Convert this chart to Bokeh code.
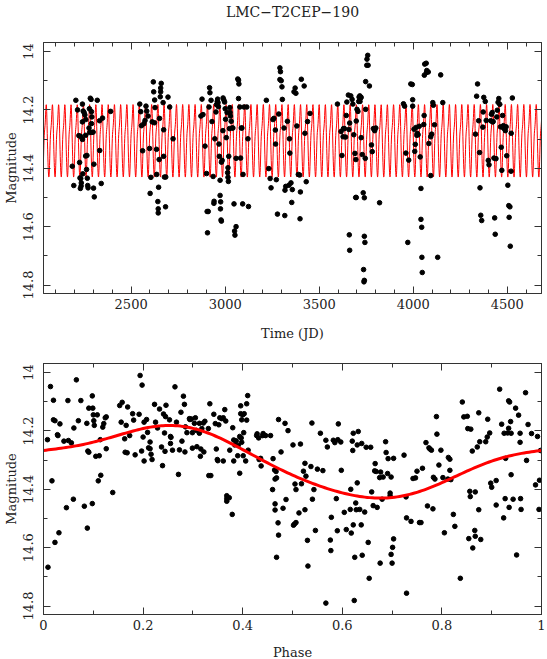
import numpy as np
from bokeh.plotting import figure
from bokeh.layouts import column
from bokeh.models import (Range1d, LinearAxis, SingleIntervalTicker,
                          CustomJSTickFormatter)
from bokeh.embed import file_html
from bokeh.resources import INLINE

# ---------------- data ----------------
title_text = "LMC\u2212T2CEP\u2212190"

jd = [2206, 2215, 2241, 2245, 2250, 2254, 2241, 2232, 2222, 2241, 2258, 2259, 2283, 2287, 2278,
      2289, 2291, 2289, 2276, 2280, 2291, 2298, 2332, 2320, 2348, 2333, 2258, 2265, 2226, 2228,
      2243, 2263, 2302, 2187, 2195, 2232, 2235, 2234, 2230, 2267, 2269, 2271, 2300, 2304, 2341,
      2391,
      2546, 2551, 2555, 2561, 2579, 2583, 2574, 2590, 2598, 2605, 2612, 2618, 2620, 2625, 2627,
      2624, 2635, 2636, 2642, 2644, 2644, 2646, 2649, 2651, 2655, 2657, 2657, 2660, 2670, 2673,
      2673, 2677, 2684, 2683, 2696, 2705, 2723, 2601, 2568,
      2871, 2877, 2882, 2893, 2901, 2904, 2906, 2910, 2917, 2919, 2914, 2925, 2930, 2936, 2940,
      2941, 2945, 2951, 2954, 2958, 2960, 2962, 2964, 2967, 2969, 2973, 2973, 2975, 2976, 2978,
      2980, 2980, 2984, 2988, 2989, 2993, 2997, 3000, 3002, 3006, 3010, 3015, 3013, 3015, 3017,
      3019, 3023, 3025, 3026, 3028, 3032, 3037, 3041, 3047, 3050, 3052, 3058, 3058, 3067, 3071,
      3073, 3071, 3078, 3082, 3086, 3089, 3095, 3100, 3115, 3121, 3124, 3093,
      3219, 3232, 3239, 3244, 3254, 3259, 3267, 3268, 3272, 3278, 3285, 3291, 3294, 3291, 3298,
      3302, 3304, 3313, 3318, 3317, 3322, 3331, 3339, 3342, 3344, 3350, 3354, 3357, 3366, 3372,
      3376, 3381, 3389, 3396, 3398, 3400, 3405, 3420, 3424, 3431, 3438, 3451,
      3597, 3616, 3621, 3627, 3629, 3634, 3640, 3644, 3647, 3655, 3658, 3662, 3668, 3675, 3679,
      3684, 3690, 3695, 3697, 3697, 3701, 3706, 3710, 3712, 3716, 3719, 3723, 3717, 3723, 3729,
      3734, 3740, 3740, 3743, 3736, 3738, 3740, 3747, 3747, 3745, 3753, 3754, 3758, 3760, 3767,
      3778, 3782, 3788, 3795, 3801, 3821, 3662, 3660, 3694,
      3948, 3954, 3961, 3976, 3971, 3987, 3995, 3997, 3997, 4004, 4008, 4011, 4015, 4019, 4021,
      4026, 4032, 4037, 4041, 4041, 4045, 4046, 4048, 4056, 4058, 4059, 4061, 4069, 4070, 4072,
      4080, 4083, 4093, 4098, 4104, 4107, 4113, 4093, 4130, 4146, 4157,
      4331, 4337, 4342, 4348, 4353, 4355, 4359, 4364, 4370, 4372, 4375, 4383, 4388, 4399, 4403,
      4412, 4416, 4420, 4422, 4425, 4429, 4433, 4436, 4440, 4444, 4447, 4451, 4455, 4460, 4464,
      4468, 4471, 4475, 4479, 4481, 4490, 4494, 4497, 4503, 4508, 4514, 4510, 4516, 4520, 4521,
      4527]

mag_t = [14.167, 14.200, 14.180, 14.204, 14.209, 14.217, 14.241, 14.291, 14.288, 14.301, 14.287, 14.233, 14.160, 14.164, 14.196,
         14.206, 14.224, 14.247, 14.262, 14.277, 14.277, 14.276, 14.237, 14.167, 14.228, 14.339, 14.358, 14.356, 14.380, 14.433,
         14.419, 14.404, 14.386, 14.393, 14.459, 14.435, 14.450, 14.461, 14.469, 14.434, 14.459, 14.467, 14.468, 14.498, 14.452,
         14.205,
         14.180, 14.206, 14.254, 14.340, 14.187, 14.204, 14.236, 14.221, 14.332, 14.431, 14.241, 14.104, 14.138, 14.166, 14.192,
         14.244, 14.335, 14.421, 14.514, 14.539, 14.553, 14.465, 14.370, 14.229, 14.155, 14.138, 14.125, 14.109, 14.175, 14.268,
         14.359, 14.430, 14.430, 14.532, 14.156, 14.190, 14.299, 14.486, 14.247,
         14.221, 14.163, 14.216, 14.324, 14.418, 14.548, 14.621, 14.548, 14.124, 14.141, 14.190, 14.167, 14.240, 14.428, 14.520,
         14.513, 14.299, 14.207, 14.182, 14.171, 14.163, 14.175, 14.189, 14.317, 14.359, 14.441, 14.493, 14.539, 14.515, 14.577,
         14.581, 14.379, 14.373, 14.271, 14.159, 14.166, 14.173, 14.196, 14.232, 14.295, 14.209, 14.398, 14.415, 14.431, 14.445,
         14.359, 14.264, 14.192, 14.209, 14.221, 14.239, 14.262, 14.262, 14.522, 14.615, 14.629, 14.600, 14.366, 14.094, 14.098,
         14.111, 14.161, 14.190, 14.365, 14.262, 14.262, 14.421, 14.190, 14.190, 14.299, 14.531, 14.522,
         14.167, 14.401, 14.435, 14.467, 14.233, 14.229, 14.269, 14.317, 14.439, 14.557, 14.214, 14.056, 14.069, 14.096, 14.100,
         14.121, 14.164, 14.262, 14.475, 14.562, 14.462, 14.239, 14.458, 14.299, 14.348, 14.450, 14.517, 14.473, 14.138, 14.125,
         14.143, 14.255, 14.421, 14.423, 14.573, 14.481, 14.095, 14.118, 14.280, 14.446, 14.240, 14.212,
         14.180, 14.274, 14.356, 14.292, 14.264, 14.264, 14.293, 14.219, 14.173, 14.149, 14.267, 14.245, 14.152, 14.164, 14.180,
         14.285, 14.349, 14.370, 14.238, 14.500, 14.198, 14.205, 14.171, 14.156, 14.152, 14.160, 14.157, 14.171, 14.295, 14.353,
         14.484, 14.501, 14.633, 14.654, 14.747, 14.789, 14.784, 14.103, 14.198, 14.366, 14.047, 14.026, 14.013, 14.047, 14.118,
         14.320, 14.343, 14.264, 14.271, 14.262, 14.518, 14.681, 14.628, 14.500,
         14.179, 14.187, 14.348, 14.372, 14.654, 14.111, 14.113, 14.165, 14.187, 14.266, 14.342, 14.318, 14.260, 14.287, 14.280,
         14.285, 14.256, 14.361, 14.469, 14.575, 14.602, 14.705, 14.757, 14.250, 14.219, 14.081, 14.043, 14.040, 14.072, 14.065,
         14.070, 14.315, 14.292, 14.283, 14.175, 14.184, 14.251, 14.425, 14.705, 14.080, 14.175,
         14.283, 14.153, 14.111, 14.237, 14.346, 14.467, 14.561, 14.579, 14.259, 14.207, 14.157, 14.171, 14.236, 14.373, 14.388,
         14.237, 14.215, 14.209, 14.241, 14.240, 14.365, 14.570, 14.626, 14.367, 14.224, 14.201, 14.174, 14.161, 14.181, 14.258,
         14.328, 14.407, 14.219, 14.254, 14.263, 14.271, 14.258, 14.357, 14.458, 14.528, 14.532, 14.568, 14.667, 14.410, 14.280,
         14.159]

phase = [0.008, 0.009, 0.014, 0.017, 0.020, 0.020, 0.023, 0.023, 0.028, 0.029, 0.031, 0.033, 0.041, 0.046, 0.049,
         0.050, 0.056, 0.060, 0.061, 0.066, 0.070, 0.075, 0.082, 0.087, 0.088, 0.089, 0.091, 0.091, 0.098, 0.099,
         0.098, 0.100, 0.101, 0.102, 0.105, 0.108, 0.110, 0.112, 0.115, 0.114, 0.119, 0.121, 0.124, 0.126, 0.126,
         0.139, 0.153, 0.156, 0.158, 0.163, 0.164, 0.166, 0.168, 0.169, 0.173, 0.179, 0.181, 0.184, 0.192, 0.194,
         0.197, 0.198, 0.200, 0.202, 0.202, 0.207, 0.209, 0.211, 0.214, 0.214, 0.216, 0.218, 0.223, 0.225, 0.229,
         0.233, 0.237, 0.239, 0.241, 0.243, 0.244, 0.245, 0.246, 0.253, 0.255, 0.255, 0.256, 0.259, 0.264, 0.267,
         0.271, 0.273, 0.276, 0.278, 0.281, 0.283, 0.285, 0.284, 0.288, 0.293, 0.294, 0.297, 0.299, 0.299, 0.303,
         0.305, 0.307, 0.308, 0.313, 0.315, 0.316, 0.313, 0.318, 0.321, 0.322, 0.324, 0.331, 0.332, 0.334, 0.336,
         0.342, 0.345, 0.347, 0.349, 0.350, 0.352, 0.354, 0.358, 0.361, 0.361, 0.364, 0.366, 0.368, 0.368, 0.368,
         0.373, 0.374, 0.379, 0.380, 0.382, 0.382, 0.384, 0.387, 0.390, 0.391, 0.394, 0.394, 0.396, 0.396, 0.397,
         0.398, 0.398, 0.400, 0.402, 0.401, 0.403, 0.406, 0.408, 0.408, 0.410, 0.411, 0.428, 0.429, 0.432, 0.433,
         0.436, 0.437, 0.441, 0.440, 0.446, 0.456, 0.460, 0.461, 0.465, 0.465, 0.464, 0.465, 0.467, 0.468, 0.471,
         0.472, 0.468, 0.472, 0.477, 0.481, 0.485, 0.487, 0.491, 0.501, 0.502, 0.504, 0.505, 0.507, 0.507, 0.513,
         0.516, 0.518, 0.522, 0.525, 0.525, 0.527, 0.530, 0.531, 0.537, 0.539, 0.540, 0.543, 0.546, 0.550, 0.556,
         0.561, 0.567, 0.567, 0.570, 0.576, 0.577, 0.578, 0.582, 0.585, 0.588, 0.590, 0.591, 0.592, 0.597, 0.598,
         0.604, 0.608, 0.616, 0.617, 0.618, 0.620, 0.621, 0.622, 0.622, 0.624, 0.625, 0.627, 0.628, 0.630, 0.630,
         0.632, 0.635, 0.638, 0.639, 0.640, 0.645, 0.648, 0.652, 0.654, 0.657, 0.659, 0.662, 0.665, 0.666, 0.668,
         0.670, 0.675, 0.676, 0.677, 0.680, 0.682, 0.687, 0.688, 0.691, 0.692, 0.696, 0.696, 0.698, 0.698, 0.700,
         0.701, 0.703, 0.703, 0.724, 0.728, 0.729, 0.729, 0.738, 0.742, 0.747, 0.750, 0.755, 0.758, 0.761, 0.768,
         0.771, 0.774, 0.776, 0.779, 0.782, 0.783, 0.786, 0.789, 0.790, 0.794, 0.798, 0.802, 0.805, 0.812, 0.813,
         0.816, 0.816, 0.818, 0.823, 0.826, 0.837, 0.841, 0.844, 0.851, 0.852, 0.854, 0.856, 0.857, 0.858, 0.861,
         0.862, 0.866, 0.867, 0.867, 0.871, 0.874, 0.874, 0.876, 0.878, 0.888, 0.891, 0.892, 0.896, 0.898, 0.900,
         0.909, 0.909, 0.916, 0.920, 0.924, 0.925, 0.927, 0.928, 0.932, 0.934, 0.934, 0.935, 0.936, 0.938, 0.939,
         0.939, 0.943, 0.948, 0.950, 0.954, 0.957, 0.957, 0.958, 0.959, 0.968, 0.970, 0.973, 0.980, 0.988, 0.992,
         0.995, 0.996, 0.998]

mag_p = [14.230, 14.667, 14.048, 14.371, 14.095, 14.162, 14.165, 14.582, 14.213, 14.216, 14.549, 14.176, 14.235, 14.463, 14.096,
         14.233, 14.241, 14.434, 14.190, 14.025, 14.165, 14.096, 14.458, 14.174, 14.533, 14.269, 14.122, 14.273, 14.080, 14.122,
         14.449, 14.145, 14.165, 14.181, 14.287, 14.145, 14.371, 14.285, 14.352, 14.230, 14.187, 14.175, 14.155, 14.152, 14.261,
         14.411, 14.113, 14.170, 14.102, 14.227, 14.273, 14.181, 14.275, 14.118, 14.216, 14.141, 14.163, 14.282, 14.143, 14.010,
         14.269, 14.043, 14.221, 14.303, 14.170, 14.161, 14.205, 14.258, 14.238, 14.261, 14.280, 14.298, 14.109, 14.170, 14.190,
         14.125, 14.255, 14.319, 14.142, 14.207, 14.270, 14.151, 14.112, 14.162, 14.219, 14.243, 14.222, 14.266, 14.049, 14.170,
         14.349, 14.265, 14.136, 14.235, 14.081, 14.109, 14.186, 14.272, 14.206, 14.158, 14.161, 14.159, 14.206, 14.259, 14.174,
         14.155, 14.198, 14.254, 14.174, 14.287, 14.262, 14.208, 14.192, 14.173, 14.272, 14.167, 14.192, 14.353, 14.107, 14.353,
         14.143, 14.175, 14.262, 14.298, 14.302, 14.179, 14.155, 14.158, 14.303, 14.155, 14.127, 14.166, 14.422, 14.441, 14.432,
         14.429, 14.266, 14.486, 14.189, 14.231, 14.303, 14.248, 14.234, 14.285, 14.249, 14.345, 14.219, 14.114, 14.141, 14.224,
         14.162, 14.239, 14.145, 14.206, 14.285, 14.141, 14.303, 14.107, 14.163, 14.079, 14.266, 14.216, 14.210, 14.224, 14.298,
         14.294, 14.320, 14.209, 14.216, 14.216, 14.216, 14.401, 14.295, 14.365, 14.450, 14.334, 14.471, 14.339, 14.361, 14.515,
         14.557, 14.633, 14.161, 14.272, 14.465, 14.174, 14.435, 14.199, 14.248, 14.523, 14.519, 14.382, 14.401, 14.514, 14.481,
         14.245, 14.381, 14.338, 14.311, 14.470, 14.355, 14.575, 14.663, 14.322, 14.173, 14.434, 14.401, 14.541, 14.331, 14.208,
         14.336, 14.790, 14.232, 14.255, 14.574, 14.610, 14.496, 14.232, 14.240, 14.432, 14.542, 14.230, 14.176, 14.238, 14.335,
         14.479, 14.538, 14.469, 14.400, 14.550, 14.235, 14.267, 14.208, 14.522, 14.781, 14.633, 14.447, 14.470, 14.378, 14.248,
         14.202, 14.469, 14.522, 14.243, 14.626, 14.478, 14.256, 14.582, 14.705, 14.256, 14.409, 14.456, 14.337, 14.312, 14.339,
         14.462, 14.360, 14.653, 14.341, 14.434, 14.358, 14.237, 14.274, 14.346, 14.295, 14.413, 14.422, 14.358, 14.623, 14.653,
         14.599, 14.570, 14.294, 14.283, 14.426, 14.498, 14.756, 14.510, 14.363, 14.361, 14.338, 14.514, 14.514, 14.328, 14.240,
         14.457, 14.258, 14.262, 14.266, 14.467, 14.359, 14.365, 14.151, 14.211, 14.317, 14.266, 14.360, 14.549, 14.365, 14.291,
         14.297, 14.335, 14.367, 14.486, 14.527, 14.705, 14.101, 14.152, 14.150, 14.192, 14.569, 14.407, 14.425, 14.194, 14.269,
         14.601, 14.541, 14.561, 14.409, 14.255, 14.138, 14.470, 14.237, 14.572, 14.237, 14.221, 14.160, 14.207, 14.379, 14.393,
         14.370, 14.454, 14.057, 14.177, 14.498, 14.208, 14.432, 14.294, 14.207, 14.097, 14.191, 14.462, 14.101, 14.168, 14.208,
         14.350, 14.434, 14.122, 14.625, 14.146, 14.208, 14.239, 14.432, 14.469, 14.069, 14.301, 14.178, 14.209, 14.385, 14.219,
         14.469, 14.369, 14.267]

# fitted light curve, read along the red line of the phase panel
curve_phase = [0.0, 0.05, 0.1, 0.15, 0.2, 0.25, 0.3, 0.35, 0.4, 0.45, 0.5,
               0.55, 0.6, 0.65, 0.7, 0.75, 0.8, 0.85, 0.9, 0.95, 1.0]
curve_mag = [14.268, 14.255, 14.238, 14.212, 14.194, 14.185, 14.190, 14.216, 14.266, 14.313, 14.350,
             14.385, 14.412, 14.427, 14.429, 14.412, 14.377, 14.336, 14.303, 14.282, 14.268]
period_days = 32.98
epoch_jd = 2040.2

jd_range = (2034, 4682)
mag_range = (14.829, 13.969)   # bottom, top (magnitudes inverted)

# ---------------- styling ----------------
FONT = "DejaVu Serif"
FRAME = "#333333"
TXT = "#222222"
RED = "#ff0000"

fmt = CustomJSTickFormatter(code="return String(parseFloat(tick.toFixed(3)));")


def style_axis(ax, labels=True):
    ax.axis_line_color = FRAME
    ax.major_tick_line_color = FRAME
    ax.minor_tick_line_color = FRAME
    ax.major_tick_in = 7
    ax.major_tick_out = 0
    ax.minor_tick_in = 4
    ax.minor_tick_out = 0
    ax.major_label_text_font = FONT
    ax.major_label_text_color = TXT
    ax.major_label_text_font_size = "13px"
    ax.major_label_standoff = 5
    ax.axis_label_text_font = FONT
    ax.axis_label_text_font_style = "normal"
    ax.axis_label_text_color = TXT
    ax.axis_label_text_font_size = "13px"
    ax.formatter = fmt
    if not labels:
        ax.major_label_text_color = None
        ax.major_label_text_font_size = "1px"
        ax.major_label_standoff = 0


def make_fig(xr, xlabel, xticker, border_top, border_bottom, xlabel_standoff,
             top_label=None, top_label_standoff=0):
    p = figure(frame_width=498, frame_height=251, output_backend="svg",
               toolbar_location=None, x_range=Range1d(*xr),
               y_range=Range1d(*mag_range), x_axis_label=xlabel,
               y_axis_label="Magnitude",
               min_border_left=43, min_border_right=6,
               min_border_top=border_top, min_border_bottom=border_bottom)
    p.xgrid.visible = False
    p.ygrid.visible = False
    p.outline_line_color = FRAME
    p.background_fill_color = "white"
    p.border_fill_color = "white"
    xa = p.xaxis[0]
    ya = p.yaxis[0]
    xa.ticker = xticker()
    ya.ticker = SingleIntervalTicker(interval=0.2, num_minor_ticks=2)
    style_axis(xa)
    style_axis(ya)
    xa.axis_label_standoff = xlabel_standoff
    ya.major_label_standoff = 10
    ya.axis_label_standoff = 2
    ya.major_label_orientation = "parallel"
    top = LinearAxis(ticker=xticker())
    style_axis(top, labels=False)
    if top_label:
        # the chart title sits on the top frame edge
        top.axis_label = top_label
        top.axis_label_text_font_size = "14px"
        top.axis_label_standoff = top_label_standoff
    p.add_layout(top, "above")
    right = LinearAxis(ticker=SingleIntervalTicker(interval=0.2, num_minor_ticks=2))
    style_axis(right, labels=False)
    p.add_layout(right, "right")
    return p


# ---------------- model light curve (Fourier fit of the read red curve) ----------------
cp = np.array(curve_phase[:-1])
cm = np.array(curve_mag[:-1])
NH = (1, 2, 3)
cols = [np.ones_like(cp)]
for k in NH:
    cols += [np.cos(2 * np.pi * k * cp), np.sin(2 * np.pi * k * cp)]
coef, *_ = np.linalg.lstsq(np.column_stack(cols), cm, rcond=None)


def light_curve(ph):
    out = coef[0] + 0 * ph
    for k in NH:
        out = out + coef[2 * k - 1] * np.cos(2 * np.pi * k * ph) + coef[2 * k] * np.sin(2 * np.pi * k * ph)
    return out


t = np.arange(jd_range[0], jd_range[1] + 1, 1.0)
model_t = light_curve(((t - epoch_jd) / period_days) % 1.0)
ph_grid = np.linspace(0, 1, 201)
model_p = light_curve(ph_grid)

# ---------------- top panel ----------------
p1 = make_fig(jd_range, "Time (JD)", lambda: SingleIntervalTicker(interval=500, num_minor_ticks=5),
              border_top=40, border_bottom=50, xlabel_standoff=14,
              top_label=title_text, top_label_standoff=23)
p1.line(t, model_t, line_color=RED, line_width=1)
p1.scatter(jd, mag_t, marker="circle", size=4.6, fill_color="black", line_color="black")

# ---------------- bottom panel ----------------
p2 = make_fig((0, 1), "Phase", lambda: SingleIntervalTicker(interval=0.2, num_minor_ticks=2),
              border_top=20, border_bottom=47, xlabel_standoff=12)
p2.scatter(phase, mag_p, marker="circle", size=4.6, fill_color="black", line_color="black")
p2.line(ph_grid, model_p, line_color=RED, line_width=3, line_join="round")

layout = column(p1, p2)
open("out.html", "w").write(file_html(layout, INLINE))
